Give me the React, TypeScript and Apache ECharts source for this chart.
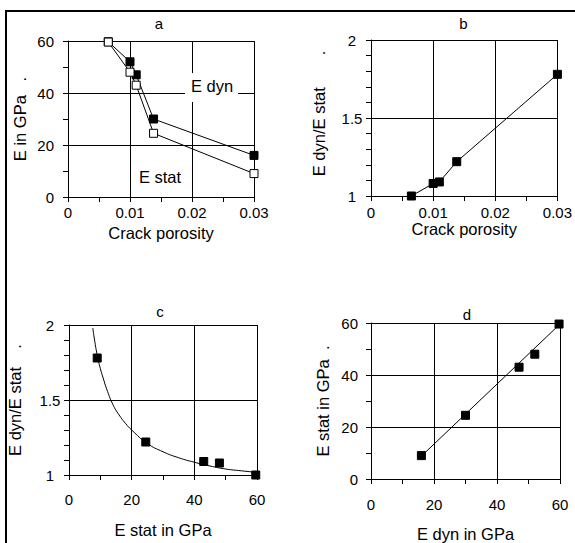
import React, { useEffect, useRef } from "react";
import * as echarts from "echarts";

// ---- data ----
const POROSITY = [0.0065, 0.01, 0.011, 0.0138, 0.03];
const E_DYN = [59.7, 52.0, 47.0, 30.0, 16.0];
const E_STAT = [59.6, 48.0, 43.0, 24.5, 9.0];
const RATIO = [1.0, 1.08, 1.09, 1.22, 1.78];
// fitted curve in panel c
const CURVE_X = [7.6, 8, 9, 10, 11, 12, 14, 16, 18, 20, 25, 30, 35, 40, 45, 50, 55, 60];
const CURVE_Y = [1.98, 1.92, 1.8, 1.71, 1.64, 1.575, 1.47, 1.4, 1.345, 1.3, 1.21, 1.155, 1.115, 1.085, 1.06, 1.04, 1.028, 1.017];
// fitted line in panel d
const FIT_X = [16, 60];
const FIT_Y = [8.8, 59.6];

const PANEL_TITLES = ["a", "b", "c", "d"];
const X_NAMES = ["Crack porosity", "Crack porosity", "E stat in GPa", "E dyn in GPa"];
const NB = "\u00A0";
const Y_NAMES = [
  "E in GPa" + NB.repeat(3) + ".",
  NB.repeat(2) + "E dyn/E stat" + NB.repeat(7) + ".",
  "E dyn/E stat" + NB.repeat(4) + ".",
  "E stat in GPa" + NB.repeat(2) + ".",
];

const FONT = "'Liberation Sans', Arial, Helvetica, sans-serif";
const pairs = (xs: number[], ys: number[]) => xs.map((x, i) => [x, ys[i]]);

function baseAxis(extra: any) {
  return {
    type: "value",
    axisLine: { show: true, onZero: false, lineStyle: { color: "#000", width: 1 } },
    axisTick: { show: true, inside: false, length: 5, lineStyle: { color: "#000", width: 1 } },
    minorTick: { show: true, splitNumber: 2, length: 5, lineStyle: { color: "#000", width: 1 } },
    splitLine: { show: true, lineStyle: { color: "#000", width: 1 } },
    axisLabel: { color: "#000", fontSize: 15, fontFamily: FONT },
    nameLocation: "middle",
    nameTextStyle: { color: "#000", fontSize: 16.5, fontFamily: FONT },
    ...extra,
  };
}
const lbl = (extra: any) => ({ color: "#000", fontSize: 15, fontFamily: FONT, ...extra });

export default function App() {
  const ref = useRef<HTMLDivElement>(null);
  useEffect(() => {
    if (!ref.current) return;
    const chart = echarts.init(ref.current, null, { renderer: "svg" });
    const lineStyle = { color: "#000", width: 1 };
    const filled = { color: "#000", borderColor: "#000", borderWidth: 1, opacity: 1 };
    const open = { color: "#fff", borderColor: "#000", borderWidth: 1, opacity: 1 };
    const ratioMinor = { show: true, splitNumber: 5, length: 5, lineStyle: { color: "#000", width: 1 } };
    const option: any = {
      animation: false,
      backgroundColor: "#fff",
      grid: [
        { left: 68, top: 41, width: 186, height: 156 },
        { left: 371, top: 40, width: 187, height: 156 },
        { left: 69, top: 325, width: 188, height: 150 },
        { left: 371, top: 323, width: 189, height: 159 },
      ],
      xAxis: [
        baseAxis({ gridIndex: 0, min: 0, max: 0.03, interval: 0.01, name: X_NAMES[0], nameGap: 27, axisLabel: lbl({ margin: 7.5 }) }),
        baseAxis({ gridIndex: 1, min: 0, max: 0.03, interval: 0.01, name: X_NAMES[1], nameGap: 21.5, axisLabel: lbl({ margin: 9 }) }),
        baseAxis({ gridIndex: 2, min: 0, max: 60, interval: 20, name: X_NAMES[2], nameGap: 46, axisLabel: lbl({ margin: 16.5 }) }),
        baseAxis({ gridIndex: 3, min: 0, max: 60, interval: 20, name: X_NAMES[3], nameGap: 46, axisLabel: lbl({ margin: 17.5 }) }),
      ],
      yAxis: [
        baseAxis({ gridIndex: 0, min: 0, max: 60, interval: 20, name: Y_NAMES[0], nameRotate: 90, nameGap: 40, axisLabel: lbl({ margin: 14 }) }),
        baseAxis({ gridIndex: 1, min: 1, max: 2, interval: 0.5, name: Y_NAMES[1], nameRotate: 90, nameGap: 44,
          minorTick: ratioMinor, axisLabel: lbl({ margin: 19, align: "center" }) }),
        baseAxis({ gridIndex: 2, min: 1, max: 2, interval: 0.5, name: Y_NAMES[2], nameRotate: 90, nameGap: 45.5,
          minorTick: ratioMinor, axisLabel: lbl({ margin: 19, align: "center" }) }),
        baseAxis({ gridIndex: 3, min: 0, max: 60, interval: 20, name: Y_NAMES[3], nameRotate: 90, nameGap: 39.5, axisLabel: lbl({ margin: 13 }) }),
      ],
      series: [
        { name: "E dyn", type: "line", xAxisIndex: 0, yAxisIndex: 0, data: pairs(POROSITY, E_DYN), symbol: "rect", symbolSize: 8, lineStyle, itemStyle: filled, z: 3 },
        { name: "E stat", type: "line", xAxisIndex: 0, yAxisIndex: 0, data: pairs(POROSITY, E_STAT), symbol: "rect", symbolSize: 8, lineStyle, itemStyle: open, z: 4 },
        { name: "E dyn/E stat", type: "line", xAxisIndex: 1, yAxisIndex: 1, data: pairs(POROSITY, RATIO), symbol: "rect", symbolSize: 8, lineStyle, itemStyle: filled },
        { name: "fit c", type: "line", xAxisIndex: 2, yAxisIndex: 2, data: pairs(CURVE_X, CURVE_Y), smooth: true, showSymbol: false, symbol: "none", lineStyle, z: 2 },
        { name: "ratio vs E stat", type: "scatter", xAxisIndex: 2, yAxisIndex: 2, data: pairs(E_STAT, RATIO), symbol: "rect", symbolSize: 8, itemStyle: filled, z: 3 },
        { name: "fit d", type: "line", xAxisIndex: 3, yAxisIndex: 3, data: pairs(FIT_X, FIT_Y), showSymbol: false, symbol: "none", lineStyle, z: 2 },
        { name: "E stat vs E dyn", type: "scatter", xAxisIndex: 3, yAxisIndex: 3, data: pairs(E_DYN, E_STAT), symbol: "rect", symbolSize: 8, itemStyle: filled, z: 3 },
      ],
      graphic: {
        elements: [
          { type: "polyline", z: 20, shape: { points: [[6, 543], [6, 11], [575, 11]] }, style: { stroke: "#000", lineWidth: 2, fill: "none" } },
          { type: "text", x: 159, y: 23.5, z: 20, style: { text: PANEL_TITLES[0], fill: "#000", font: `15px ${FONT}`, align: "center", verticalAlign: "middle" } },
          { type: "text", x: 463.5, y: 23, z: 20, style: { text: PANEL_TITLES[1], fill: "#000", font: `15px ${FONT}`, align: "center", verticalAlign: "middle" } },
          { type: "text", x: 160, y: 311.5, z: 20, style: { text: PANEL_TITLES[2], fill: "#000", font: `15px ${FONT}`, align: "center", verticalAlign: "middle" } },
          { type: "text", x: 467, y: 314.5, z: 20, style: { text: PANEL_TITLES[3], fill: "#000", font: `15px ${FONT}`, align: "center", verticalAlign: "middle" } },
          { type: "rect", x: 185, y: 73, z: 10, shape: { width: 53, height: 29 }, style: { fill: "#fff", stroke: "none" } },
          { type: "text", x: 212, y: 85.5, z: 11, style: { text: "E dyn", fill: "#000", font: `16.5px ${FONT}`, align: "center", verticalAlign: "middle" } },
          { type: "text", x: 160, y: 177, z: 11, style: { text: "E stat", fill: "#000", font: `16.5px ${FONT}`, align: "center", verticalAlign: "middle" } },
        ],
      },
    };
    chart.setOption(option);
    return () => chart.dispose();
  }, []);
  return <div ref={ref} style={{ position: "absolute", left: 0, top: 0, width: 575, height: 543 }} />;
}
